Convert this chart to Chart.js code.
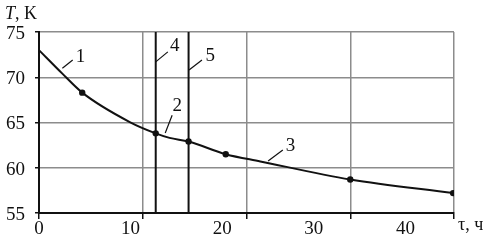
<!DOCTYPE html>
<html>
<head>
<meta charset="utf-8">
<script src="https://cdn.jsdelivr.net/npm/chart.js@4.4.1/dist/chart.umd.min.js"></script>
<style>
  html, body { margin: 0; padding: 0; background: #fff; }
  #wrap { width: 490px; height: 246px; }
</style>
</head>
<body>
<div id="wrap"><canvas id="chartEnfriamiento"></canvas></div>
<script>
// tiempo (h) y temperatura (K)
const tau = [0, 2.7, 5.0, 10.5, 13.5, 15.1, 17.3, 21.6, 25.6, 36.0, 47.9]
const temperatura = [73.0, 70.4, 68.3, 65.05, 63.8, 63.3, 62.9, 61.5, 60.7, 58.7, 57.2]
const conPunto = [2, 4, 6, 7, 9, 10]

// lineas verticales 4 y 5
const lineasVert = [13.5, 17.3]

const tickLabelsX = [0, 10, 20, 30, 40]
const tickLabelsY = [55, 60, 65, 70, 75]

// etiquetas numeradas: texto, inicio y fin de la guia, posicion del texto (en unidades de datos)
const notas = [
    { t: '1', a: [2.7, 71.0], b: [3.9, 71.9], p: [4.8, 72.2] },
    { t: '4', a: [13.5, 71.7], b: [14.9, 72.8], p: [15.7, 73.5] },
    { t: '5', a: [17.35, 70.8], b: [18.85, 71.9], p: [19.8, 72.3] },
    { t: '2', a: [14.6, 63.85], b: [15.4, 65.8], p: [16.0, 66.8] },
    { t: '3', a: [26.5, 60.75], b: [28.2, 61.95], p: [29.1, 62.4] }
]

const FUENTE = 'Liberation Serif'

const dataEnfriamiento = {
    datasets: [
        {
            data: tau.map((x, i) => ({ x: x, y: temperatura[i] })),
            borderColor: '#111',
            borderWidth: 2,
            pointRadius: tau.map((x, i) => conPunto.includes(i) ? 2.2 : 0),
            pointBackgroundColor: '#111',
            pointBorderColor: '#111',
            cubicInterpolationMode: 'monotone',
            xAxisID: 'x',
            yAxisID: 'y'
        },
        ...lineasVert.map(v => ({
            data: [{ x: v, y: tickLabelsY[0] }, { x: v, y: tickLabelsY[tickLabelsY.length - 1] }],
            borderColor: '#111',
            borderWidth: 2,
            pointRadius: 0,
            xAxisID: 'x',
            yAxisID: 'y'
        }))
    ]
}

const notasPlugin = {
    id: 'notas',
    afterDraw(chart) {
        const ctx = chart.ctx
        const sx = chart.scales.x, sy = chart.scales.y
        ctx.save()
        ctx.strokeStyle = '#111'
        ctx.lineWidth = 1.2
        ctx.fillStyle = '#111'
        ctx.font = '19px "' + FUENTE + '"'
        ctx.textAlign = 'center'
        ctx.textBaseline = 'middle'
        notas.forEach(n => {
            ctx.beginPath()
            ctx.moveTo(sx.getPixelForValue(n.a[0]), sy.getPixelForValue(n.a[1]))
            ctx.lineTo(sx.getPixelForValue(n.b[0]), sy.getPixelForValue(n.b[1]))
            ctx.stroke()
            ctx.fillText(n.t, sx.getPixelForValue(n.p[0]), sy.getPixelForValue(n.p[1]))
        })
        // titulos de ejes
        ctx.textAlign = 'left'
        ctx.textBaseline = 'alphabetic'
        ctx.font = 'italic 18px "' + FUENTE + '"'
        ctx.fillText('T', 5, 19)
        const w = ctx.measureText('T').width
        ctx.font = '18px "' + FUENTE + '"'
        ctx.fillText(', K', 5 + w, 19)
        ctx.fillText('τ, ч', sx.right + 4, sy.bottom + 17)
        ctx.restore()
    }
}

const optionsEnfriamiento = {
    responsive: true,
    maintainAspectRatio: false,
    animation: false,
    layout: { padding: { top: 32, right: 36, left: 0, bottom: 0 } },
    scales: {
        x: {
            type: 'linear',
            position: 'bottom',
            min: 0,
            max: 48,
            ticks: { stepSize: 12, display: false },
            grid: { color: '#8c8c8c', lineWidth: 1.5, tickLength: 6, tickColor: '#111', tickWidth: 1.5 },
            border: { color: '#111', width: 2 },
            afterFit: s => { s.height = 0 }
        },
        xl: {
            type: 'linear',
            position: 'bottom',
            min: 0,
            max: 45.3,
            afterBuildTicks: s => { s.ticks = tickLabelsX.map(v => ({ value: v })) },
            ticks: { color: '#111', font: { family: FUENTE, size: 19 }, padding: 5, maxRotation: 0, autoSkip: false },
            grid: { display: false, drawTicks: false },
            border: { display: false },
            afterFit: s => { s.height = 33 }
        },
        y: {
            min: 55,
            max: 75,
            afterBuildTicks: s => { s.ticks = tickLabelsY.map(v => ({ value: v })) },
            ticks: { color: '#111', font: { family: FUENTE, size: 19 }, padding: 10, labelOffset: 2 },
            grid: { color: '#8c8c8c', lineWidth: 1.5, tickLength: 4, tickColor: '#111' },
            border: { color: '#111', width: 2 },
            afterFit: s => { s.width = 39 }
        }
    },
    plugins: {
        legend: { display: false },
        tooltip: { enabled: false }
    }
}

const ctxEnfriamiento = document.getElementById('chartEnfriamiento')

new Chart(ctxEnfriamiento, {
    type: 'line',
    data: dataEnfriamiento,
    options: optionsEnfriamiento,
    plugins: [notasPlugin]
})
</script>
</body>
</html>
